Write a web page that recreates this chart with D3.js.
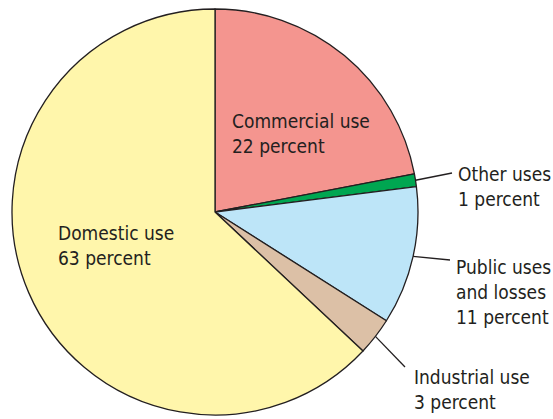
<!DOCTYPE html>
<html>
<head>
<meta charset="utf-8">
<script src="https://cdn.jsdelivr.net/npm/d3@7"></script>
<style>
  html, body { margin: 0; padding: 0; background: #fff; }
  svg text { font-family: "Liberation Sans Narrow", "Arial Narrow", "DejaVu Sans Condensed", sans-serif; font-stretch: condensed; fill: #231f20; }
</style>
</head>
<body>
<svg id="chart" width="553" height="419"></svg>
<script>
// Water use shares, clockwise from 12 o'clock
const categories = ["Commercial use", "Other uses", "Public uses and losses", "Industrial use", "Domestic use"];
const percents = [22, 1, 11, 3, 63];
const labelLines = [
  ["Commercial use", "22 percent"],
  ["Other uses", "1 percent"],
  ["Public uses", "and losses", "11 percent"],
  ["Industrial use", "3 percent"],
  ["Domestic use", "63 percent"]
];
const colors = ["#f4958f", "#00a651", "#bde5f8", "#dcc0a6", "#fff6ab"];

// Label placement: inside labels have no leader; outside ones get a leader line
const labelPos = [
  { x: 232, y: 128, leader: null },
  { x: 458, y: 181, leader: [452, 173] },
  { x: 456, y: 274, leader: [450, 260] },
  { x: 414, y: 384, leader: [405, 367] },
  { x: 58, y: 240, leader: null }
];

const svg = d3.select("#chart");
const cx = 215, cy = 212, r = 203;
const g = svg.append("g").attr("transform", `translate(${cx},${cy})`);

const pie = d3.pie().sort(null).value(d => d)(percents);
const arc = d3.arc().innerRadius(0).outerRadius(r);

g.selectAll("path.slice")
  .data(pie)
  .join("path")
  .attr("class", "slice")
  .attr("d", arc)
  .attr("fill", (d, i) => colors[i])
  .attr("stroke", "#231f20")
  .attr("stroke-width", 1.3)
  .attr("stroke-linejoin", "round");

// Leader lines from the rim at each slice's mid-angle
pie.forEach((d, i) => {
  const p = labelPos[i];
  if (!p.leader) return;
  const a = (d.startAngle + d.endAngle) / 2;
  const sx = cx + r * Math.sin(a), sy = cy - r * Math.cos(a);
  svg.append("line")
    .attr("x1", sx).attr("y1", sy)
    .attr("x2", p.leader[0]).attr("y2", p.leader[1])
    .attr("stroke", "#231f20").attr("stroke-width", 1.3);
});

labelLines.forEach((lines, i) => {
  const p = labelPos[i];
  const t = svg.append("text").attr("x", p.x).attr("y", p.y).attr("font-size", 19);
  lines.forEach((s, j) => {
    t.append("tspan").attr("x", p.x).attr("y", p.y + j * 25).text(s);
  });
});
</script>
</body>
</html>
